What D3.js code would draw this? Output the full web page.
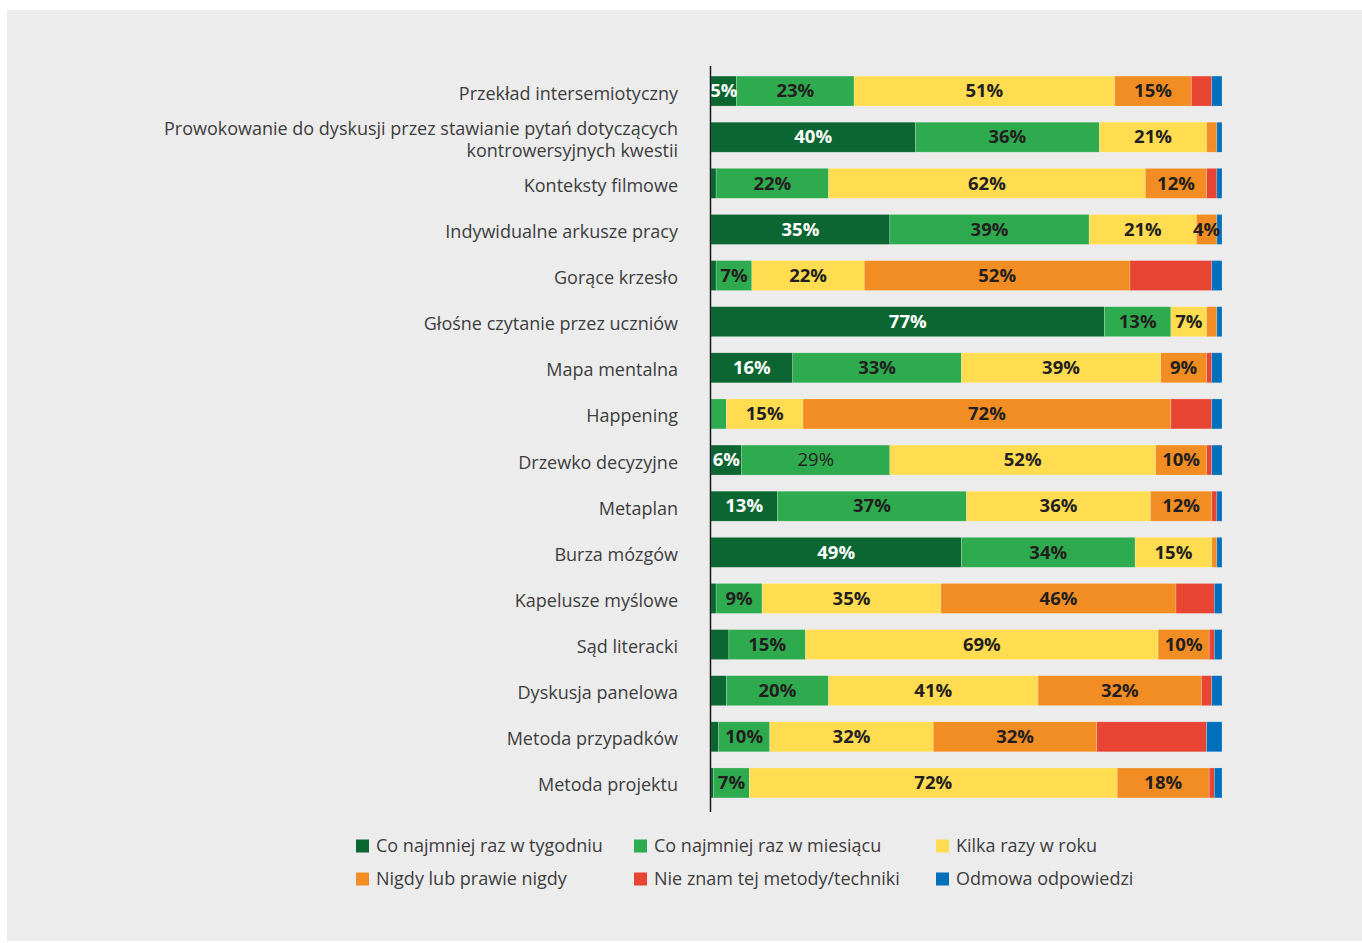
<!DOCTYPE html>
<html>
<head>
<meta charset="utf-8">
<script src="https://cdn.jsdelivr.net/npm/d3@7/dist/d3.min.js"></script>
<style>
  html, body { margin: 0; padding: 0; background: #ffffff; }
  svg { display: block; }
  text { font-family: "Open Sans", "Noto Sans", sans-serif; }
</style>
</head>
<body>
<svg id="chart" width="1362" height="943"></svg>
<script>
// Survey answers: how often each teaching method is used (percent of respondents)
const methods = [
  "Przekład intersemiotyczny",
  "Prowokowanie do dyskusji przez stawianie pytań dotyczących|kontrowersyjnych kwestii",
  "Konteksty filmowe",
  "Indywidualne arkusze pracy",
  "Gorące krzesło",
  "Głośne czytanie przez uczniów",
  "Mapa mentalna",
  "Happening",
  "Drzewko decyzyjne",
  "Metaplan",
  "Burza mózgów",
  "Kapelusze myślowe",
  "Sąd literacki",
  "Dyskusja panelowa",
  "Metoda przypadków",
  "Metoda projektu"
];

const seriesNames = [
  "Co najmniej raz w tygodniu",
  "Co najmniej raz w miesiącu",
  "Kilka razy w roku",
  "Nigdy lub prawie nigdy",
  "Nie znam tej metody/techniki",
  "Odmowa odpowiedzi"
];

const seriesColors = ["#0b6631", "#2eab4f", "#ffdc50", "#f18d22", "#e84434", "#0070bd"];

const weekly      = [5, 40, 1, 35, 1, 77, 16, 0, 6, 13, 49, 1, 3.5, 3, 1.5, 0.5];
const monthly     = [23, 36, 22, 39, 7, 13, 33, 3, 29, 37, 34, 9, 15, 20, 10, 7];
const fewPerYear  = [51, 21, 62, 21, 22, 7, 39, 15, 52, 36, 15, 35, 69, 41, 32, 72];
const never       = [15, 2, 12, 4, 52, 2, 9, 72, 10, 12, 1, 46, 10, 32, 32, 18];
const unknown     = [4, 0, 2, 0, 16, 0, 1, 8, 1, 1, 0, 7.5, 1, 2, 21.5, 1];
const refused     = [2, 1, 1, 1, 2, 1, 2, 2, 2, 1, 1, 1.5, 1.5, 2, 3, 1.5];

const seriesValues = [weekly, monthly, fewPerYear, never, unknown, refused];

// labels printed in regular weight instead of bold: [method index, series index]
const regularLabels = [[8, 1]];

const rows = methods.map((m, i) => {
  const r = { method: m };
  seriesNames.forEach((s, j) => { r[s] = seriesValues[j][i]; });
  return r;
});

const svg = d3.select("#chart");

// panel background
svg.append("rect")
  .attr("x", 7).attr("y", 10)
  .attr("width", 1355).attr("height", 931)
  .attr("fill", "#ececec");

const x = d3.scaleLinear().domain([0, 100]).range([711, 1222]);
const y = d3.scaleBand().domain(methods).range([68, 806])
  .paddingInner(0.35).paddingOuter(0.175);
const color = d3.scaleOrdinal().domain(seriesNames).range(seriesColors);

const stacked = d3.stack().keys(seriesNames)(rows);

const layers = svg.append("g").selectAll("g")
  .data(stacked)
  .join("g")
  .attr("fill", d => color(d.key));

layers.selectAll("rect")
  .data(d => d)
  .join("rect")
  .attr("x", d => x(d[0]))
  .attr("y", d => y(d.data.method))
  .attr("width", d => Math.max(0, x(d[1]) - x(d[0])))
  .attr("height", y.bandwidth())
  .attr("stroke", "rgba(255,255,255,0.35)")
  .attr("stroke-width", 0.6);

// value labels on the first four answer groups
const labelGroup = svg.append("g");
stacked.forEach((layer, si) => {
  if (si > 3) return;
  layer.forEach((d, mi) => {
    const v = d[1] - d[0];
    if (v < 4) return;
    const regular = regularLabels.some(p => p[0] === mi && p[1] === si);
    labelGroup.append("text")
      .attr("x", (x(d[0]) + x(d[1])) / 2)
      .attr("y", y(d.data.method) + y.bandwidth() / 2)
      .attr("dy", "0.34em")
      .attr("text-anchor", "middle")
      .attr("font-size", 18.5)
      .attr("font-weight", regular ? 400 : 700)
      .attr("fill", si === 0 ? "#ffffff" : "#231f20")
      .text(Math.round(v) + "%");
  });
});

// category axis: a plain vertical line with labels on its left
svg.append("line")
  .attr("x1", 710.5).attr("x2", 710.5)
  .attr("y1", 66).attr("y2", 812)
  .attr("stroke", "#1a1a1a")
  .attr("stroke-width", 1.5);

const catLabels = svg.append("g");
methods.forEach(m => {
  const lines = m.split("|");
  const cy = y(m) + y.bandwidth() / 2 + 2;
  const lh = 22;
  const t = catLabels.append("text")
    .attr("x", 678)
    .attr("text-anchor", "end")
    .attr("font-size", 18)
    .attr("fill", "#3d3d3d");
  lines.forEach((ln, k) => {
    t.append("tspan")
      .attr("x", 678)
      .attr("y", cy + (k - (lines.length - 1) / 2) * lh)
      .attr("dy", "0.36em")
      .text(ln);
  });
});

// legend
const legendX = [356, 634, 936];
const legendY = [846, 879];
const legend = svg.append("g");
seriesNames.forEach((s, i) => {
  const col = i % 3, row = Math.floor(i / 3);
  const g = legend.append("g")
    .attr("transform", `translate(${legendX[col]},${legendY[row]})`);
  g.append("rect")
    .attr("x", 0).attr("y", -6.5)
    .attr("width", 13).attr("height", 13)
    .attr("fill", color(s));
  g.append("text")
    .attr("x", 20).attr("y", 0)
    .attr("dy", "0.36em")
    .attr("font-size", 18)
    .attr("fill", "#3d3d3d")
    .text(s);
});
</script>
</body>
</html>
